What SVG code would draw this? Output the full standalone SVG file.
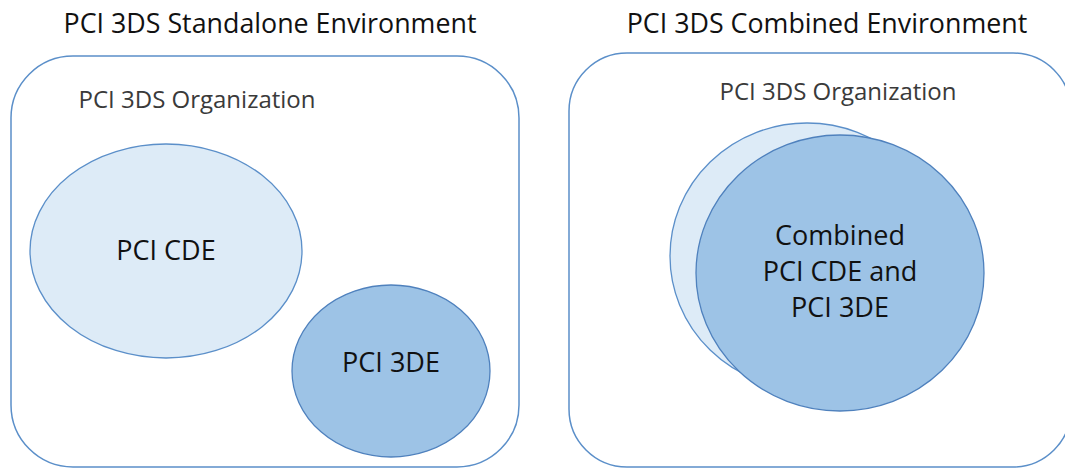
<svg xmlns="http://www.w3.org/2000/svg" width="1065" height="468" viewBox="0 0 1065 468">
<style>
.box{fill:#fff;stroke:#5b8fc9;stroke-width:1.5}
.light{fill:#ddebf7;stroke:#5b8fc9;stroke-width:1.3}
.dark{fill:#9dc3e6;stroke:#4f81bd;stroke-width:1.3}
.t{font-family:"Open Sans","Liberation Sans",sans-serif;fill:#111;text-anchor:middle}
.title{font-size:26.8px}
.org{font-size:24px;fill:#3a3a3a}
.lbl{font-size:27px}
</style>
<rect width="1065" height="468" fill="#fff"/>
<g id="standalone">
<text class="t title" x="270" y="33">PCI 3DS Standalone Environment</text>
<rect class="box" x="11" y="56" width="508" height="411" rx="62" ry="62"/>
<text class="t org" x="197" y="108">PCI 3DS Organization</text>
</g>
<g id="pci-cde">
<ellipse class="light" cx="166" cy="251" rx="136" ry="107"/>
<text class="t lbl" x="166" y="260">PCI CDE</text>
</g>
<g id="pci-3de">
<ellipse class="dark" cx="391" cy="371" rx="99" ry="86"/>
<text class="t lbl" x="391" y="372">PCI 3DE</text>
</g>
<g id="combined-env">
<text class="t title" x="827" y="33">PCI 3DS Combined Environment</text>
<rect class="box" x="569" y="53" width="502" height="414" rx="58" ry="58"/>
<text class="t org" x="838" y="100">PCI 3DS Organization</text>
</g>
<g id="combined-cde">
<ellipse class="light" cx="807" cy="256" rx="137" ry="133"/>
</g>
<g id="combined-3de">
<ellipse class="dark" cx="840" cy="273" rx="144" ry="138"/>
<text class="t lbl" x="840" y="245">Combined</text>
<text class="t lbl" x="840" y="281">PCI CDE and</text>
<text class="t lbl" x="840" y="317">PCI 3DE</text>
</g>
<g id="connectors"/>
</svg>
